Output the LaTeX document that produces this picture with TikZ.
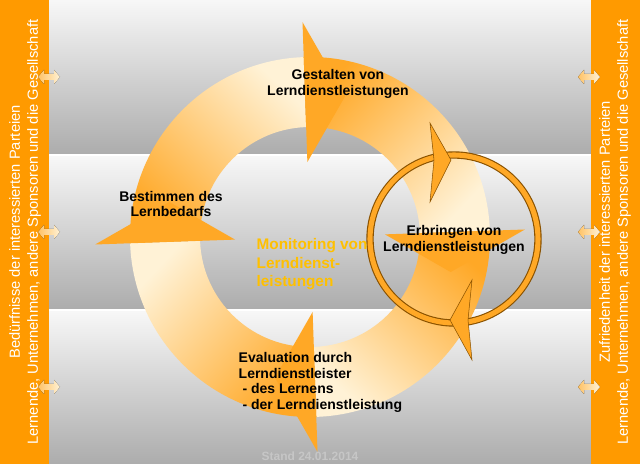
\documentclass[tikz,border=0pt]{standalone}
\usepackage{fontspec}
\setmainfont{Liberation Sans}
\usetikzlibrary{calc}
\definecolor{cream}{HTML}{FFF2D6}
\definecolor{org}{HTML}{FFA826}
\definecolor{bar}{HTML}{FF9A00}
\definecolor{dk}{HTML}{8A5200}
\definecolor{mon}{HTML}{FFC000}
\tikzset{
  band/.style={top color=white!97!black, bottom color=gray!65},
  lbl/.style={font=\bfseries\fontsize{10.5}{11.6}\selectfont, align=center, text=black},
  side/.style={font=\fontsize{11}{13.5}\selectfont, align=center, text=white, rotate=90},
  head/.style={fill=org},
  dbl/.style={left color=bar!60, right color=cream},
}
\newcommand{\seg}[1]{%
  \shade[top color=org, bottom color=cream, shading angle={#1+45}]
    ({#1+90}:180) arc[start angle={#1+90}, end angle={#1}, radius=180]
    -- ({#1}:110) arc[start angle={#1}, end angle={#1+90}, radius=110] -- cycle;}
\newcommand{\hd}[1]{%
  \fill[head] ({#1}:215) -- ({#1-16}:145) -- ({#1}:75) -- cycle;}
\begin{document}
\begin{tikzpicture}[x=0.75pt,y=0.75pt]
\useasboundingbox (0,0) rectangle (640,464);
% bands
\shade[band] (0,0) rectangle (640,153);
\shade[band] (0,154.5) rectangle (640,308);
\shade[band] (0,309.5) rectangle (640,464);
\fill[white] (0,308) rectangle (640,309.5);
\fill[white] (0,153) rectangle (640,154.5);
% ring
\begin{scope}[shift={(310,227)}]
\seg{92}\seg{2}\seg{-88}\seg{182}
\hd{92}\hd{2}\hd{-88}\hd{182}
\end{scope}
% small circle
\coordinate (sc) at (454,225);
\draw[dk, line width=5.5pt] (sc) circle[radius=84];
\draw[org, line width=3.8pt] (sc) circle[radius=84];
\filldraw[fill=org, draw=dk, line width=0.4pt] (430,341) -- (451,304) -- (430,262) -- (434,304) -- cycle;
\filldraw[fill=org, draw=dk, line width=0.4pt] (472,184) -- (450,144) -- (472,104) -- (468,144) -- cycle;
% side bars
\fill[bar] (0,0) rectangle (49,464);
\fill[bar] (591,0) rectangle (640,464);
\node[side] (ls) at (25,232) {Bedürfnisse der interessierten Parteien\\Lernende, Unternehmen, andere Sponsoren und die Gesellschaft};
\node[side] (rs) at (615,232) {Zufriedenheit der interessierten Parteien\\Lernende, Unternehmen, andere Sponsoren und die Gesellschaft};
\foreach \yy in {387,232,77}{
  \foreach \xx in {38,578}{
    \fill[dbl] (\xx,\yy) -- ++(6,7) -- ++(0,-4) -- ++(10,0) -- ++(0,4) -- ++(6,-7) -- ++(-6,-7) -- ++(0,4) -- ++(-10,0) -- ++(0,-4) -- cycle;
  }}
% labels
\node[lbl] (g) at (338,380) {Gestalten von\\Lerndienstleistungen};
\node[lbl] (b) at (171,260) {Bestimmen des\\Lernbedarfs};
\node[lbl] (e) at (454,224) {Erbringen von\\Lerndienstleistungen};
\node[lbl, text=mon, align=left, anchor=north west, font=\bfseries\fontsize{11.5}{13.8}\selectfont] (m) at (252,230) {Monitoring von\\Lerndienst-\\leistungen};
\node[lbl, align=left, anchor=north west] (ev) at (234,116) {Evaluation durch\\Lerndienstleister\\\ - des Lernens\\\ - der Lerndienstleistung};
\node[font=\bfseries\fontsize{9}{10}\selectfont, text=gray!45] (st) at (310,8) {Stand 24.01.2014};
\end{tikzpicture}
\end{document}
